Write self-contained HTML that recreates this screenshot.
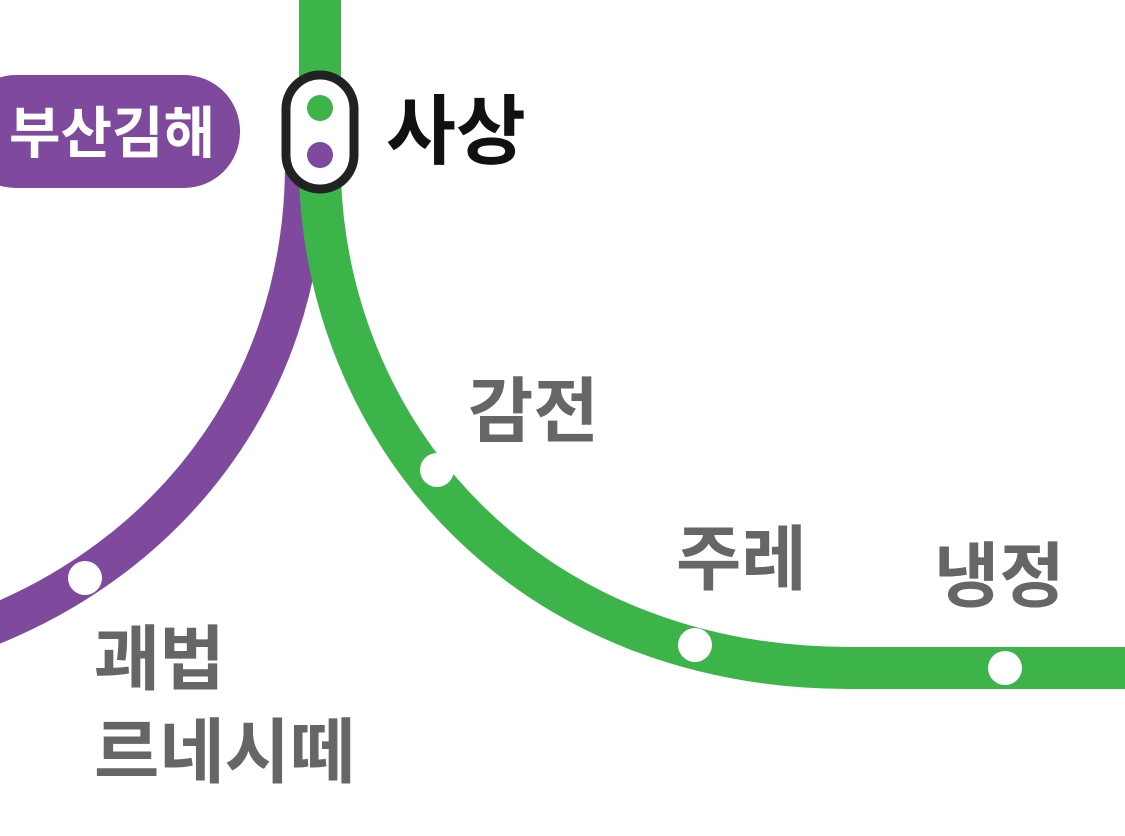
<!DOCTYPE html>
<html><head><meta charset="utf-8"><style>
html,body{margin:0;padding:0;background:#fff;width:1125px;height:836px;overflow:hidden}
svg{display:block}
text{font-family:"Liberation Sans","Noto Sans CJK KR",sans-serif;font-weight:700}
</style></head><body>
<svg width="1125" height="836" viewBox="0 0 1125 836">
<path d="M305,170 C302,400 160,560 -15,628" fill="none" stroke="#7f4a9e" stroke-width="40"/>
<path d="M320,-5 L320,180 C330,440 530,668 850,668 L1130,668" fill="none" stroke="#3cb44a" stroke-width="42"/>
<rect x="-40" y="75" width="280" height="113" rx="56" fill="#7f4a9e"/>
<text x="9" y="153" font-size="56" fill="#fff">부산김해</text>
<rect x="286" y="75" width="68" height="114" rx="34" fill="#fff" stroke="#222" stroke-width="9"/>
<circle cx="320" cy="108" r="13" fill="#3cb44a"/>
<circle cx="320" cy="155" r="13" fill="#7f4a9e"/>
<text x="386" y="158" font-size="76" fill="#111">사상</text>
<circle cx="437" cy="470" r="17" fill="#fff"/>
<circle cx="695" cy="645" r="17" fill="#fff"/>
<circle cx="1005" cy="668" r="17" fill="#fff"/>
<circle cx="85" cy="578" r="17" fill="#fff"/>
<g fill="#666" font-size="71">
<text x="468" y="436">감전</text>
<text x="676" y="584">주레</text>
<text x="934" y="601">냉정</text>
<text x="94" y="684">괘법</text>
<text x="94" y="777">르네시떼</text>
</g>
</svg>
</body></html>
